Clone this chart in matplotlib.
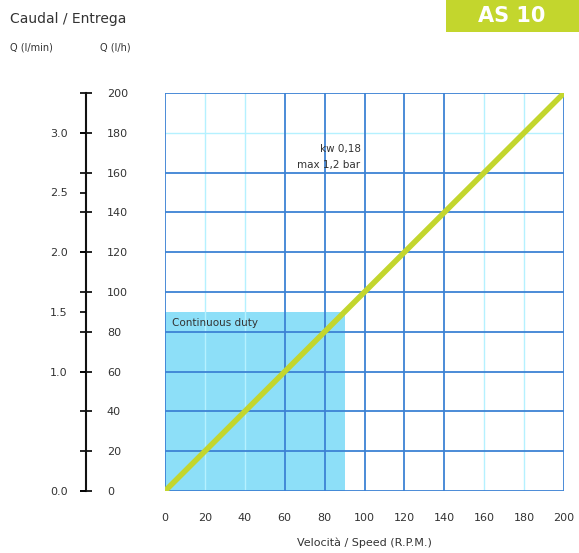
import matplotlib
matplotlib.use("Agg")
import matplotlib.pyplot as plt
from matplotlib.patches import Rectangle

# data
speed_rpm = [0, 200]
flow_lh = [0, 200]
duty_speed = 90
duty_flow = 90
x_ticks = [0, 20, 40, 60, 80, 100, 120, 140, 160, 180, 200]
lh_ticks = [0, 20, 40, 60, 80, 100, 120, 140, 160, 180, 200]
lmin_ticks = [0.0, 1.0, 1.5, 2.0, 2.5, 3.0]
dark_x = [0, 60, 80, 100, 120, 140, 200]
light_x = [20, 40, 160, 180]
dark_y = [0, 20, 40, 60, 80, 100, 120, 140, 160, 200]
light_y = [180]

dark_blue = "#3d82d4"
light_cyan = "#b5f1ff"
green = "#c3d62d"
txt = "#333333"

fig = plt.figure(figsize=(5.79, 5.53), dpi=100)
W, H = 579, 553

def fax(x0, y0, x1, y1):
    return [x0 / W, 1 - y1 / H, (x1 - x0) / W, (y1 - y0) / H]

ax = fig.add_axes(fax(165, 93, 564, 491))
ax.set_xlim(0, 200)
ax.set_ylim(0, 200)
for s in ax.spines.values():
    s.set_visible(False)
ax.set_yticks([])
ax.set_xticks(x_ticks)
ax.set_xticklabels([str(v) for v in x_ticks], fontsize=8, color=txt)
ax.tick_params(axis="x", length=0, pad=16)
ax.set_xlabel("Velocità / Speed (R.P.M.)", fontsize=8, color=txt, labelpad=10)

ax.add_patch(Rectangle((0, 0), duty_speed, duty_flow, facecolor="#8ddff8",
                       edgecolor="none", zorder=0))
for v in light_x:
    ax.axvline(v, color=light_cyan, lw=1.0, zorder=1)
for v in light_y:
    ax.axhline(v, color=light_cyan, lw=1.0, zorder=1)
for v in dark_x:
    ax.axvline(v, color=dark_blue, lw=1.3, zorder=2)
for v in dark_y:
    ax.axhline(v, color=dark_blue, lw=1.3, zorder=2)

ax.plot(speed_rpm, flow_lh, color="#444444", lw=1.0, ls=(0, (2, 1)), zorder=3)
ax.plot(speed_rpm, flow_lh, color=green, lw=4, solid_capstyle="butt", zorder=4)

ax.text(3.5, 84.5, "Continuous duty", fontsize=7.5, color=txt, va="center", zorder=5)
ax.text(98, 172, "kw 0,18", fontsize=7.5, color=txt, ha="right", va="center", zorder=5)
ax.text(98, 164, "max 1,2 bar", fontsize=7.5, color=txt, ha="right", va="center", zorder=5)

# left scales
sc = fig.add_axes(fax(86, 93, 86.001, 491))
sc2 = sc.twinx()
for a in (sc, sc2):
    a.set_ylim(0, 200)
    a.set_xticks([])
    for s in a.spines.values():
        s.set_visible(False)
sc.spines["left"].set_visible(True)
sc.spines["left"].set_linewidth(1.5)
sc.spines["left"].set_color("#111111")

sc.yaxis.set_ticks_position("right")
sc.yaxis.set_label_position("right")
sc.set_yticks(lh_ticks)
sc.set_yticklabels([str(v) for v in lh_ticks], fontsize=8, color=txt)
sc.tick_params(axis="y", which="both", left=False, labelleft=False,
               right=True, labelright=True,
               direction="inout", length=8, width=1.2, pad=11)

sc2.set_yticks([q * 60 for q in lmin_ticks])
sc2.set_yticklabels(["%.1f" % q for q in lmin_ticks], fontsize=8, color=txt)
sc2.tick_params(axis="y", which="both", right=False, labelright=False,
                left=True, labelleft=True,
                direction="out", length=4, width=1.2, pad=9)

# header
fig.text(10 / W, 1 - 19 / H, "Caudal / Entrega", fontsize=10, color=txt, va="center")
fig.text(10 / W, 1 - 48 / H, "Q (l/min)", fontsize=7, color=txt, va="center")
fig.text(100 / W, 1 - 48 / H, "Q (l/h)", fontsize=7, color=txt, va="center")
fig.patches.append(Rectangle((446 / W, 1 - 32 / H), 133 / W, 32 / H,
                             transform=fig.transFigure, facecolor=green,
                             edgecolor="none"))
fig.text(512 / W, 1 - 16 / H, "AS 10", fontsize=15, fontweight="bold",
         color="white", ha="center", va="center")

fig.savefig("out.png", dpi=100)
